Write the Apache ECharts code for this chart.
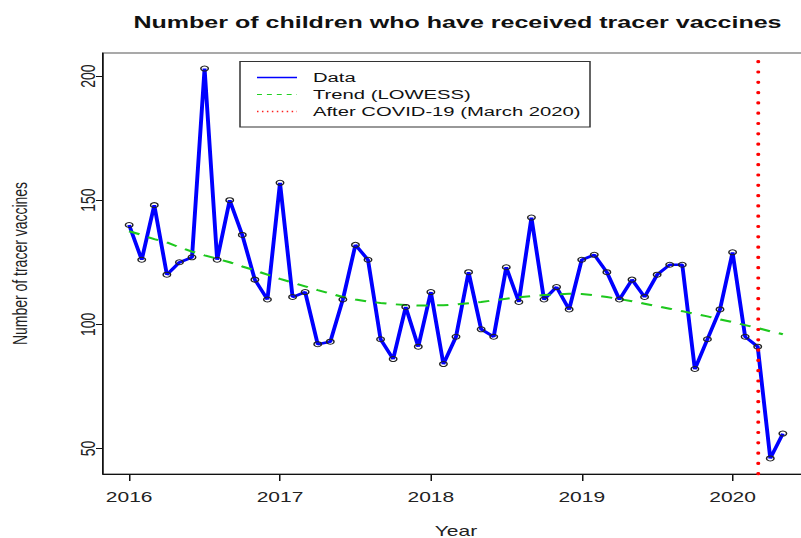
<!DOCTYPE html>
<html>
<head>
<meta charset="utf-8">
<script src="https://cdn.jsdelivr.net/npm/echarts@6/dist/echarts.min.js"></script>
<style>
body { margin: 0; background: #fff; overflow: hidden; }
/* the reference picture is stretched sideways, so the chart is drawn narrow and widened */
#chart { width: 534px; height: 538px; transform: scaleX(1.5); transform-origin: 0 0; }
</style>
</head>
<body>
<div id="chart"></div>
<script>
var months = [
  '2016-01','2016-02','2016-03','2016-04','2016-05','2016-06','2016-07','2016-08','2016-09','2016-10','2016-11','2016-12',
  '2017-01','2017-02','2017-03','2017-04','2017-05','2017-06','2017-07','2017-08','2017-09','2017-10','2017-11','2017-12',
  '2018-01','2018-02','2018-03','2018-04','2018-05','2018-06','2018-07','2018-08','2018-09','2018-10','2018-11','2018-12',
  '2019-01','2019-02','2019-03','2019-04','2019-05','2019-06','2019-07','2019-08','2019-09','2019-10','2019-11','2019-12',
  '2020-01','2020-02','2020-03','2020-04','2020-05'
];
var children = [
  140,126,148,120,125,127,203,126,150,136,118,110,
  157,111,113,92,93,110,132,126,94,86,107,91,
  113,84,95,121,98,95,123,109,143,110,115,106,
  126,128,121,110,118,111,120,124,124,82,94,106,
  129,95,91,46,56
];
var lowess = [
  137.5,136,134.3,133,131,129.3,127.8,126.4,125,123.3,121.7,120,
  118.3,116.8,115.3,113.8,112.4,111,110,109.2,108.6,108.1,107.8,107.6,
  107.6,107.7,108,108.5,109,109.7,110.3,110.9,111.4,111.8,112.1,112.3,
  112.2,111.7,111,110.2,109.3,108.3,107.3,106.3,105.3,104.2,103.2,102,
  100.9,99.7,98.5,97.2,96
];
var yearTicks = [2016, 2017, 2018, 2019, 2020];
var countTicks = [50, 100, 150, 200];
var covidMonth = '2020-03';

var SX = 1.5;
var font = "'Liberation Sans', Arial, sans-serif";

function toYear(m) {
  var p = m.split('-');
  return +p[0] + (p[1] - 1) / 12;
}

function pairs(vals) {
  var list = [];
  for (var i = 0; i < vals.length; i++) {
    list.push([toYear(months[i]), vals[i]]);
  }
  return list;
}

// R style range: data range plus 4% each side
var x0 = toYear(months[0]), x1 = toYear(months[months.length - 1]);
var xPad = (x1 - x0) * 0.04;
var y0 = Math.min.apply(null, children), y1 = Math.max.apply(null, children);
var yPad = (y1 - y0) * 0.04;

var chart = echarts.init(document.getElementById('chart'), null, { renderer: 'svg' });

var legendItems = [
  { text: 'Data', y: 77.5, style: { stroke: '#0000ff', lineWidth: 1.3 } },
  { text: 'Trend (LOWESS)', y: 94.5, style: { stroke: '#22d022', lineWidth: 1.2, lineDash: [3.3, 3.3] } },
  { text: 'After COVID-19 (March 2020)', y: 111.5, style: { stroke: '#ff2020', lineWidth: 1.4, lineDash: [1, 2.3] } }
];
var legendGraphic = [{
  type: 'rect',
  shape: { x: 240 / SX, y: 61.5, width: 350 / SX, height: 65.5 },
  style: { fill: '#fff', stroke: '#333', lineWidth: 1 },
  z: 100
}];
legendItems.forEach(function (it) {
  legendGraphic.push({
    type: 'line',
    shape: { x1: 257 / SX, y1: it.y, x2: 297 / SX, y2: it.y },
    style: it.style,
    z: 101
  });
  legendGraphic.push({
    type: 'text',
    x: 313 / SX,
    y: it.y,
    style: { text: it.text, fill: '#111', font: '13.5px ' + font, verticalAlign: 'middle' },
    z: 101
  });
});

var option = {
  backgroundColor: '#fff',
  animation: false,
  title: {
    text: 'Number of children who have received tracer vaccines',
    left: 300,
    top: 9,
    textAlign: 'center',
    textStyle: { fontFamily: font, fontWeight: 'bold', fontSize: 16.7, color: '#111' }
  },
  grid: {
    left: 103 / SX,
    top: 53,
    width: 706 / SX,
    height: 421,
    show: true,
    borderColor: '#555',
    borderWidth: 1,
    containLabel: false,
    outerBoundsMode: 'none'
  },
  xAxis: {
    type: 'value',
    min: x0 - xPad,
    max: x1 + xPad,
    name: 'Year',
    nameLocation: 'middle',
    nameGap: 50,
    nameTextStyle: { fontFamily: font, fontSize: 14, color: '#222' },
    axisLine: { show: true, lineStyle: { color: '#111', width: 1 } },
    axisTick: { show: true, length: 7, customValues: yearTicks, lineStyle: { color: '#111' } },
    axisLabel: {
      customValues: yearTicks,
      margin: 16,
      fontFamily: font,
      fontSize: 14,
      color: '#222',
      formatter: function (v) { return '' + v; }
    },
    splitLine: { show: false }
  },
  yAxis: {
    type: 'value',
    min: y0 - yPad,
    max: y1 + yPad,
    name: 'Number of tracer vaccines',
    nameLocation: 'middle',
    nameGap: 48.7,
    nameTextStyle: { fontFamily: font, fontSize: 14, color: '#222' },
    axisLine: { show: true, lineStyle: { color: '#111', width: 1 } },
    axisTick: { show: true, length: 7 / SX, customValues: countTicks, lineStyle: { color: '#111' } },
    axisLabel: {
      customValues: countTicks,
      rotate: 90,
      margin: 3,
      fontFamily: font,
      fontSize: 14,
      color: '#222',
      formatter: function (v) { return '' + v; }
    },
    splitLine: { show: false }
  },
  series: [
    {
      name: 'Data',
      type: 'line',
      data: pairs(children),
      symbol: 'circle',
      symbolSize: 5,
      showAllSymbol: true,
      silent: true,
      itemStyle: { color: 'rgba(0,0,0,0)', borderColor: '#222', borderWidth: 1 },
      lineStyle: { color: '#0000ff', width: 2.6 },
      emphasis: { disabled: true }
    },
    {
      name: 'Trend (LOWESS)',
      type: 'line',
      data: pairs(lowess),
      symbol: 'none',
      silent: true,
      lineStyle: { color: '#1ec81e', width: 2, type: [7.5, 6.3] },
      emphasis: { disabled: true },
      markLine: {
        silent: true,
        symbol: ['none', 'none'],
        label: { show: false },
        lineStyle: { color: '#ff0000', width: 2.6, type: [0.6, 9.7], cap: 'round' },
        data: [{ xAxis: toYear(covidMonth) }]
      }
    }
  ],
  graphic: legendGraphic
};

chart.setOption(option);
</script>
</body>
</html>
